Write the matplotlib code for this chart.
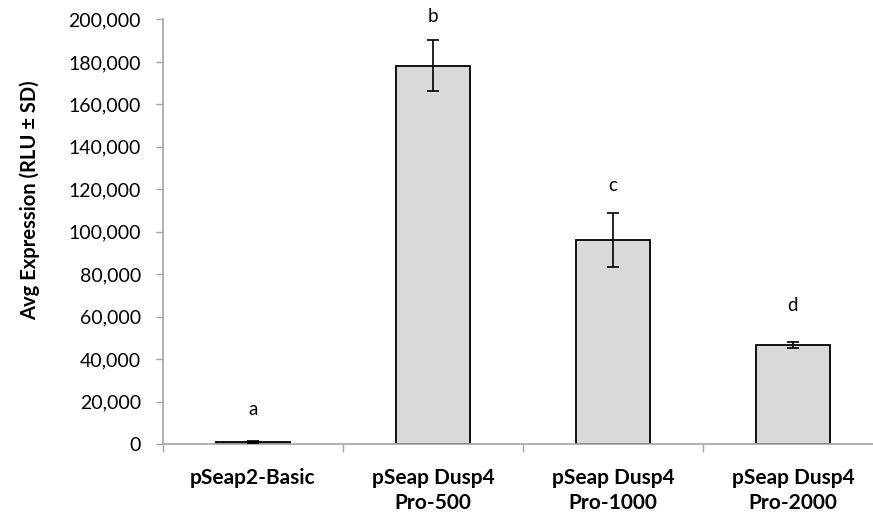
import matplotlib.pyplot as plt
from matplotlib.ticker import FuncFormatter, FixedLocator

plt.rcParams['font.family'] = ['Lato', 'DejaVu Sans']

# Data
constructs = ["pSeap2-Basic", "pSeap Dusp4\nPro-500", "pSeap Dusp4\nPro-1000", "pSeap Dusp4\nPro-2000"]
avg_expression = [1000, 178200, 96100, 46600]
sd = [300, 12100, 12600, 1500]
groups = ["a", "b", "c", "d"]
label_offsets = [23, 17, 20, 26]  # points above the error bar

fig = plt.figure(figsize=(8.73, 5.18), dpi=100)
ax = fig.add_axes([163 / 873, 74 / 518, 720 / 873, 424.5 / 518])

x = range(len(constructs))
ax.bar(x, avg_expression, width=0.41, color='#d9d9d9', edgecolor='black', linewidth=1.3, zorder=2)
ax.errorbar(x, avg_expression, yerr=sd, fmt='none', ecolor='black', elinewidth=1.2,
            capsize=4, capthick=1.2, zorder=3)

for xi, val, err, g, off in zip(x, avg_expression, sd, groups, label_offsets):
    ax.annotate(g, (xi, val + err), xytext=(0, off), textcoords='offset points',
                ha='center', va='center', fontsize=13.5)

ax.set_xlim(-0.5, 3.5)
ax.set_ylim(0, 200000)
ax.set_yticks(range(0, 200001, 20000))
ax.yaxis.set_major_formatter(FuncFormatter(lambda v, p: f"{int(v):,}"))

ax.set_xticks(list(x))
ax.set_xticklabels(constructs, fontweight='bold', fontsize=15, linespacing=1.32)
ax.xaxis.set_minor_locator(FixedLocator([-0.5, 0.5, 1.5, 2.5, 3.5]))
ax.tick_params(axis='x', which='major', length=0, pad=17)
ax.tick_params(axis='x', which='minor', length=6, width=1, color='#a6a6a6', direction='out')
ax.tick_params(axis='y', length=5, width=1, color='#a6a6a6', pad=11, labelsize=14)

for side in ['top', 'right']:
    ax.spines[side].set_visible(False)
for side in ['left', 'bottom']:
    ax.spines[side].set_color('#a6a6a6')
    ax.spines[side].set_linewidth(1.2)

fig.text(30 / 873, 1 - 200 / 518, "Avg Expression (RLU ± SD)", rotation=90,
         ha='center', va='center', fontweight='bold', fontsize=14.5)

fig.savefig('out.png', dpi=100)
